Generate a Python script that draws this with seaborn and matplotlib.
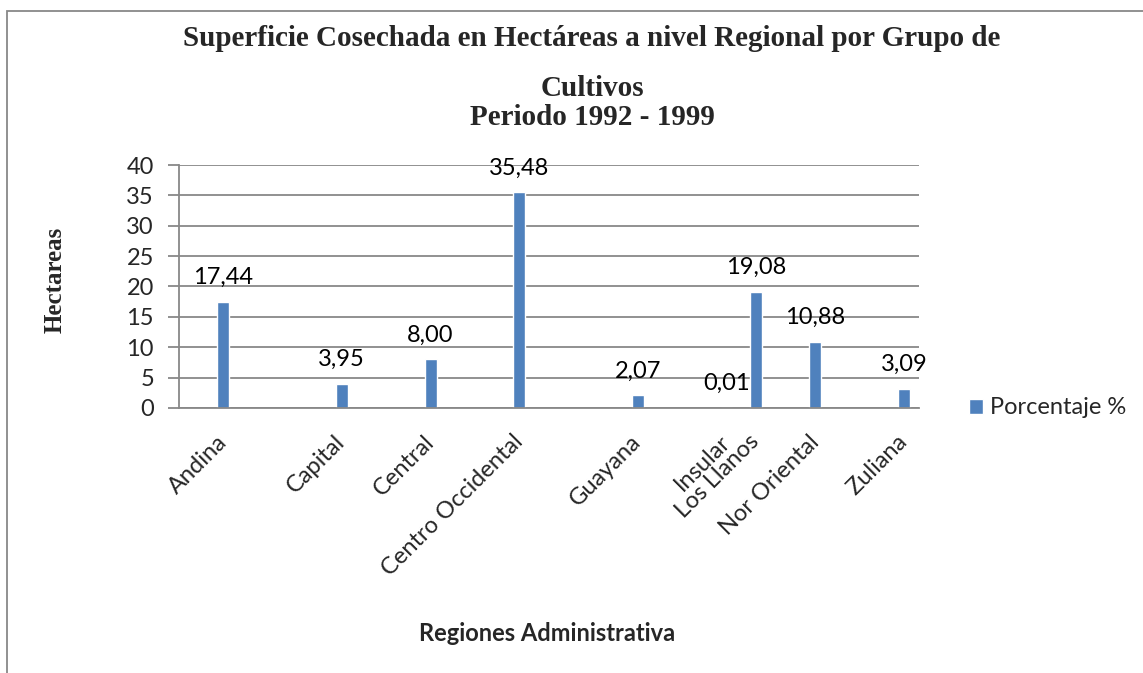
import matplotlib
matplotlib.use('Agg')
import matplotlib.pyplot as plt
import numpy as np
import pandas as pd
import seaborn as sns
from matplotlib.patches import Rectangle

# data: the source sheet has blank rows between regions,
# so the category axis has 25 slots, most of them empty
regiones = ['', 'Andina', '', '', '', 'Capital', '', '', 'Central', '', '',
            'Centro Occidental', '', '', '', 'Guayana', '', '', 'Insular',
            'Los Llanos', '', 'Nor Oriental', '', '', 'Zuliana']
porcentaje = [None, 17.44, None, None, None, 3.95, None, None, 8.00, None, None,
              35.48, None, None, None, 2.07, None, None, 0.01,
              19.08, None, 10.88, None, None, 3.09]
y_ticks = [0, 5, 10, 15, 20, 25, 30, 35, 40]

titulo_1 = 'Superficie Cosechada en Hectáreas a nivel Regional por Grupo de'
titulo_2 = 'Cultivos\nPeriodo 1992 - 1999'

sns.set_theme(style='white')
plt.rcParams['font.family'] = ['Lato', 'DejaVu Sans']

db = pd.DataFrame({'fila': np.arange(len(regiones)),
                   'valor': pd.to_numeric(pd.Series(porcentaje, dtype=float))})

fig = plt.figure(figsize=(11.43, 6.73), dpi=100)
ax = fig.add_axes([0.1566, 0.3938, 0.6474, 0.3610])

bar_color = '#4F81BD'
sns.barplot(data=db, x='fila', y='valor', order=list(db['fila']),
            color=bar_color, width=0.4, saturation=1, ax=ax,
            label='Porcentaje %')

# value labels with comma decimals
valores = [v for v in porcentaje if v is not None]
labels = ['{:.2f}'.format(v).replace('.', ',') for v in valores]
ax.bar_label(ax.containers[0], labels=labels, padding=10, fontsize=17,
             color='black')

ax.set_ylim(0, 40)
ax.set_yticks(y_ticks)
ax.set_xlim(-0.5, len(regiones) - 0.5)
ax.yaxis.grid(True, color='#888888', linewidth=1.3)
ax.set_axisbelow(True)
for s in ['top', 'right']:
    ax.spines[s].set_visible(False)
for s in ['left', 'bottom']:
    ax.spines[s].set_color('#888888')
    ax.spines[s].set_linewidth(1.3)

ax.tick_params(axis='y', labelsize=17, length=8, width=1.3, color='#888888',
               left=True, pad=10)
ax.tick_params(axis='x', length=0, pad=22)
ax.set_xticks(range(len(regiones)))
ax.set_xticklabels(regiones, rotation=45, ha='right', va='center',
                   rotation_mode='anchor', fontsize=17)

ax.set_xlabel('')
ax.set_ylabel('')

fig.text(0.048, 0.584, 'Hectareas', rotation=90, ha='center', va='center',
         fontsize=18, fontweight='bold', family='Liberation Serif')
fig.text(0.4786, 0.0594, 'Regiones Administrativa', ha='center', va='center',
         fontsize=17, fontweight='bold')
fig.text(0.518, 1 - 39 / 673, titulo_1, ha='center', va='center', fontsize=21,
         fontweight='bold', family='Liberation Serif')
fig.text(0.518, 1 - 103 / 673, titulo_2, ha='center', va='center', fontsize=21,
         fontweight='bold', family='Liberation Serif', linespacing=1.05)

ax.legend(loc='center left', bbox_to_anchor=(1.055, 0.0), frameon=False,
          fontsize=17, handlelength=0.6, handleheight=0.6, handletextpad=0.3,
          borderaxespad=0)

# chart frame
fig.patches.append(Rectangle((7 / 1143, -0.1), 1.2, 1.1 - 11 / 673,
                             transform=fig.transFigure, fill=False,
                             edgecolor='#888888', linewidth=1.3))

fig.savefig('out.png', dpi=100)
